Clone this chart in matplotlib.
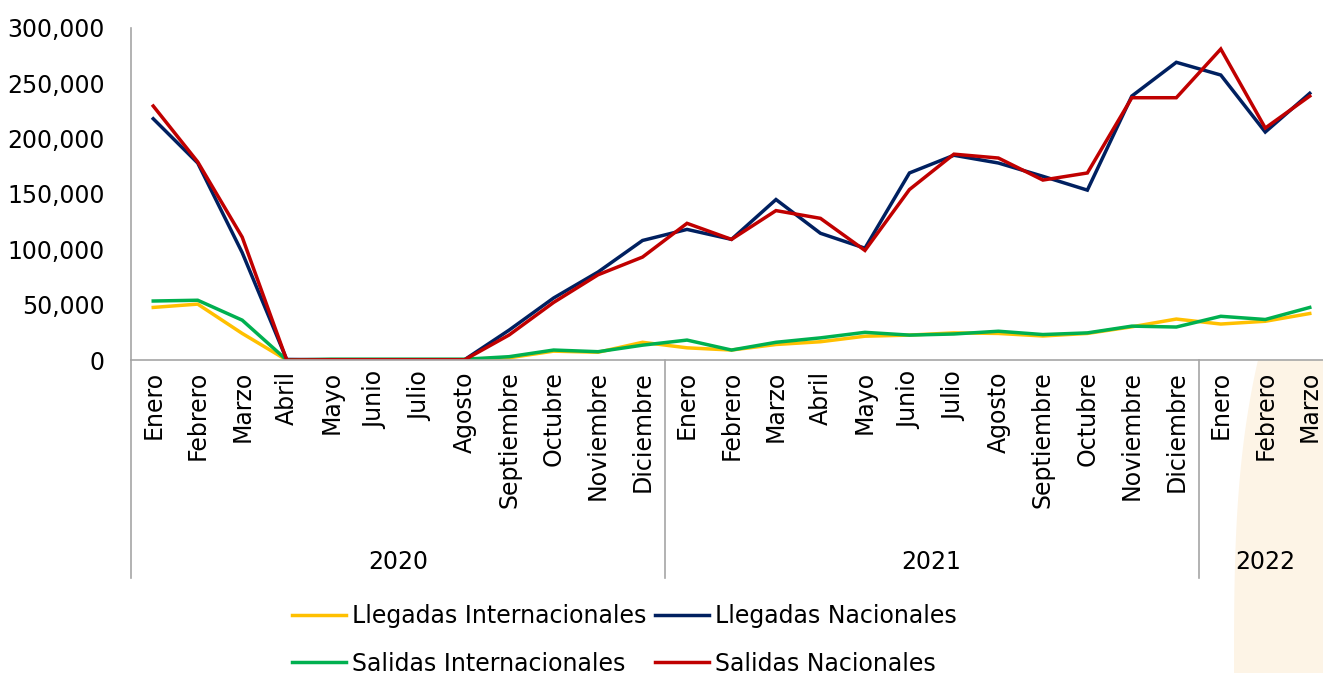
import numpy as np
import matplotlib
matplotlib.use("Agg")
import matplotlib.pyplot as plt
import matplotlib.transforms as mtransforms
from matplotlib.patches import Polygon
from matplotlib.ticker import FuncFormatter

plt.rcParams['font.family'] = ['DejaVu Sans']

meses = ["Enero", "Febrero", "Marzo", "Abril", "Mayo", "Junio", "Julio",
         "Agosto", "Septiembre", "Octubre", "Noviembre", "Diciembre"]
etiquetas = meses + meses + meses[:3]
anios = ["2020", "2021", "2022"]
meses_por_anio = [12, 12, 3]

llegadas_int = [47500, 50500, 24000, 0, 300, 300, 300, 300, 2000, 8000, 7000, 16000,
                11000, 9000, 14000, 16500, 21500, 22500, 24500, 24000, 21700, 24000, 30000, 37000,
                32500, 35000, 42000]
llegadas_nac = [218000, 178000, 97000, 500, 300, 300, 300, 300, 27000, 56000, 79500, 108000,
                118000, 109000, 145000, 114500, 101000, 169000, 185000, 178000, 166000, 153500, 238500, 269000,
                257500, 206000, 241000]
salidas_int = [53300, 54000, 36000, 0, 700, 700, 700, 700, 3000, 9000, 7500, 13400,
               18000, 9000, 16000, 20000, 25000, 22500, 23500, 26000, 23000, 24500, 30600, 29800,
               39500, 36600, 47500]
salidas_nac = [229500, 179000, 111000, 0, 200, 200, 200, 200, 22600, 52000, 77000, 93000,
               123500, 109000, 135000, 128000, 99000, 154000, 186000, 182500, 162600, 169000, 237000, 237000,
               281000, 209600, 238500]

series = [
    ("Llegadas Internacionales", llegadas_int, "#FFC000"),
    ("Llegadas Nacionales", llegadas_nac, "#002060"),
    ("Salidas Internacionales", salidas_int, "#00B050"),
    ("Salidas Nacionales", salidas_nac, "#C00000"),
]

W, H = 1323, 673
fig = plt.figure(figsize=(W / 100, H / 100), dpi=100)

# decorative beige shape in the lower right corner
t = np.linspace(0, 1, 40)
edge_y = 360 + t * (H - 360)
edge_x = 1234 + 24 * (1 - t) ** 3
verts = [(x / W, 1 - y / H) for x, y in zip(edge_x, edge_y)]
verts += [(1, 0), (1, 1 - 360 / H)]
fig.add_artist(Polygon(verts, closed=True, transform=fig.transFigure,
                       facecolor="#FDF4E6", edgecolor="none", zorder=-5))

ax = fig.add_axes([131 / W, 1 - 360 / H, (1332 - 131) / W, 332 / H])
ax.set_facecolor("white")

x = np.arange(len(etiquetas))
lineas = {}
for nombre, valores, color in series:
    lineas[nombre], = ax.plot(x, valores, color=color, lw=2.5, label=nombre,
                              solid_joinstyle="miter")

ax.set_xlim(-0.5, len(etiquetas) - 0.5)
ax.set_ylim(0, 300000)
ax.set_yticks(np.arange(0, 300001, 50000))
ax.yaxis.set_major_formatter(FuncFormatter(lambda v, p: f"{int(v):,}"))
ax.tick_params(axis="y", length=0, pad=19, labelsize=17)
ax.set_xticks(x)
ax.set_xticklabels(etiquetas, rotation=90, fontsize=17)
ax.tick_params(axis="x", length=0, pad=8)

for s in ["top", "right"]:
    ax.spines[s].set_visible(False)
for s in ["left", "bottom"]:
    ax.spines[s].set_color("#A6A6A6")
    ax.spines[s].set_linewidth(1.2)

# year separators and labels
trans = mtransforms.blended_transform_factory(ax.transData, ax.transAxes)
inicio = -0.5
for anio, n in zip(anios, meses_por_anio):
    ax.plot([inicio, inicio], [0, -0.657], transform=trans, color="#A6A6A6",
            lw=1.2, clip_on=False)
    ax.text(inicio + n / 2, -0.608, anio, transform=trans, ha="center",
            va="center", fontsize=17)
    inicio += n

# legend filled column-wise: two rows, Llegadas on top
orden = ["Llegadas Internacionales", "Salidas Internacionales",
         "Llegadas Nacionales", "Salidas Nacionales"]
fig.legend([lineas[k] for k in orden], orden, loc="upper left",
           bbox_to_anchor=(292 / W, 1 - 604 / H), ncol=2,
           frameon=False, fontsize=17, handlelength=2.3, handletextpad=0.25,
           columnspacing=0.35, labelspacing=1.0, borderpad=0, borderaxespad=0)

fig.savefig("out.png", dpi=100)
